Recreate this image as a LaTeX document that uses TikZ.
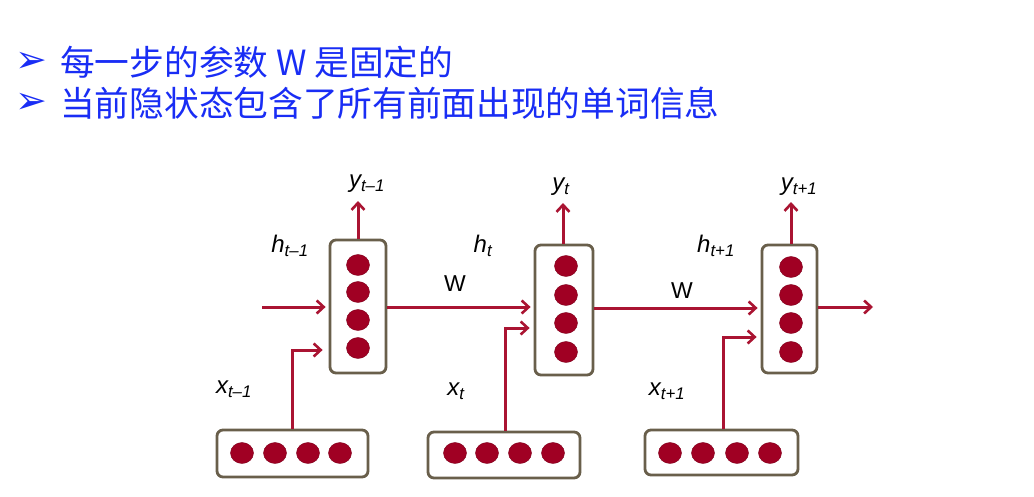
\documentclass[tikz,border=0pt]{standalone}
\usepackage{fontspec}
\setmainfont{Liberation Sans}
\newfontfamily\cjk{Noto Sans CJK SC}
\newfontfamily\dejavu{DejaVu Sans}
\usetikzlibrary{arrows.meta,shapes.geometric}
\definecolor{titleblue}{RGB}{25,45,245}
\definecolor{lred}{RGB}{170,20,50}
\definecolor{dotred}{RGB}{160,0,35}
\definecolor{boxbrown}{RGB}{105,95,75}
\newcommand{\sbs}[1]{\textsubscript{\itshape #1}}
\tikzset{
  hbox/.style={draw=boxbrown, line width=2.8pt, rounded corners=6pt, fill=white},
  dot/.style={ellipse, fill=dotred, draw=dotred!80!black, line width=0.4pt, minimum width=23pt, minimum height=21pt, inner sep=0pt},
  conn/.style={draw=lred, line width=3pt, -{Straight Barb[length=7pt,width=13pt,line width=2.6pt]}},
  lab/.style={font=\fontsize{24}{24}\selectfont\itshape, text=black, inner sep=0pt},
  wlab/.style={font=\fontsize{23}{23}\selectfont, text=black, inner sep=0pt},
  title/.style={font=\fontsize{34.7}{34.7}\selectfont\cjk, text=titleblue, anchor=west, inner sep=0pt},
  bul/.style={font=\fontsize{38}{38}\selectfont\dejavu, text=titleblue, inner sep=0pt}
}
\begin{document}
\begin{tikzpicture}[x=1pt,y=-1pt]
\useasboundingbox (0,0) rectangle (1034,496);
\fill[white] (0,0) rectangle (1034,496);
% title
\node[bul] (b1) at (31,62) {➢};
\node[bul] (b2) at (31,103) {➢};
\node[title] (t1) at (60,62) {每一步的参数 W 是固定的};
\node[title] (t2) at (60,103) {当前隐状态包含了所有前面出现的单词信息};
% hidden boxes
\node[hbox, minimum width=56pt, minimum height=133pt, inner sep=0pt] (h1) at (358,306.5) {};
\node[hbox, minimum width=58pt, minimum height=130pt, inner sep=0pt] (h2) at (564,310) {};
\node[hbox, minimum width=55pt, minimum height=128pt, inner sep=0pt] (h3) at (789.5,309) {};
% input boxes
\node[hbox, minimum width=151pt, minimum height=47pt, inner sep=0pt] (x1) at (292.5,453.5) {};
\node[hbox, minimum width=152pt, minimum height=46pt, inner sep=0pt] (x2) at (504,455) {};
\node[hbox, minimum width=153pt, minimum height=45pt, inner sep=0pt] (x3) at (721.5,452.5) {};
% dots hidden
\foreach \y [count=\i] in {265,292,320,348} \node[dot] (h1d\i) at (358,\y) {};
\foreach \y [count=\i] in {266,295,323,352} \node[dot] (h2d\i) at (566,\y) {};
\foreach \y [count=\i] in {267,295,323,352} \node[dot] (h3d\i) at (791,\y) {};
% dots input
\foreach \x [count=\i] in {242,275,308,340} \node[dot] (x1d\i) at (\x,453) {};
\foreach \x [count=\i] in {455,487,520,553} \node[dot] (x2d\i) at (\x,453) {};
\foreach \x [count=\i] in {670,703,737,770} \node[dot] (x3d\i) at (\x,453) {};
% coordinates
\coordinate (in0) at (262,307);
\coordinate (y1e) at (358,201);
\coordinate (y2e) at (563,203);
\coordinate (y3e) at (791,202);
\coordinate (oute) at (873,307);
\coordinate (x1c) at (292,350);
\coordinate (x2c) at (505,328);
\coordinate (x3c) at (723,337);
% connectors
\draw[conn] (in0) -- ([xshift=-3pt]h1.west |- in0);
\draw[conn] (h1.east |- 0,307) -- ([xshift=-3pt]h2.west |- 0,307);
\draw[conn] (h2.east |- 0,308) -- ([xshift=-3pt]h3.west |- 0,308);
\draw[conn] (h3.east |- oute) -- (oute);
\draw[conn] (h1.north -| y1e) -- (y1e);
\draw[conn] (h2.north -| y2e) -- (y2e);
\draw[conn] (h3.north -| y3e) -- (y3e);
\draw[conn] (x1.north -| x1c) -- (x1c) -- ([xshift=-6pt]h1.west |- x1c);
\draw[conn] (x2.north -| x2c) -- (x2c) -- ([xshift=-4pt]h2.west |- x2c);
\draw[conn] (x3.north -| x3c) -- (x3c) -- ([xshift=-4pt]h3.west |- x3c);
% labels
\node[lab] (ly1) at (367,184) {y\sbs{t–1}};
\node[lab] (ly2) at (561,187) {y\sbs{t}};
\node[lab] (ly3) at (799,187) {y\sbs{t+1}};
\node[lab] (lh1) at (290,246) {h\sbs{t–1}};
\node[lab] (lh2) at (483,246) {h\sbs{t}};
\node[lab] (lh3) at (716,246) {h\sbs{t+1}};
\node[lab] (lx1) at (234,389) {x\sbs{t–1}};
\node[lab] (lx2) at (456,391) {x\sbs{t}};
\node[lab] (lx3) at (667,391) {x\sbs{t+1}};
\node[wlab] (w1) at (455,284) {W};
\node[wlab] (w2) at (682,291) {W};
\end{tikzpicture}
\end{document}
